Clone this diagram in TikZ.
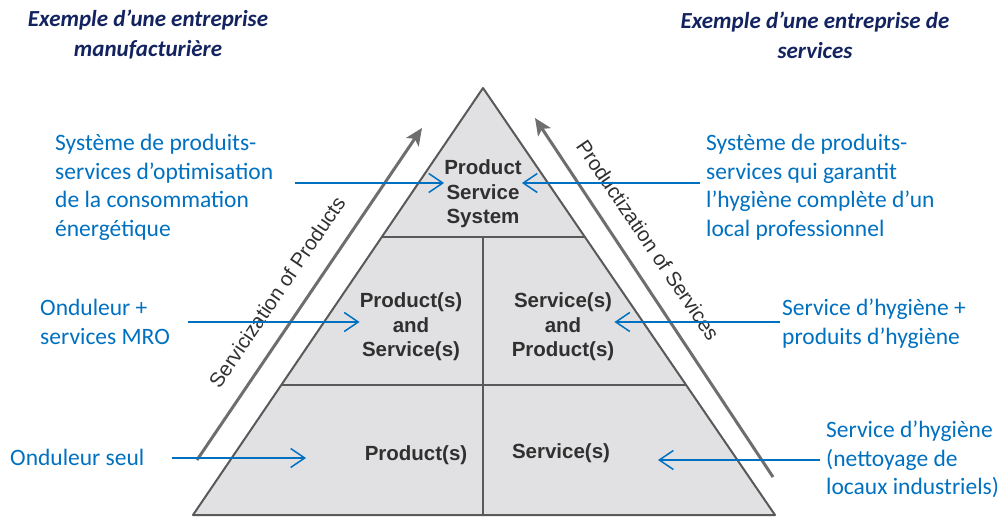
\documentclass[tikz,border=0pt]{standalone}
\usepackage{fontspec}
\setmainfont{Carlito}
\newfontfamily\arialfont{Liberation Sans}
\usetikzlibrary{arrows.meta,calc}
\definecolor{bleu}{HTML}{0070C0}
\definecolor{marine}{HTML}{13235F}
\definecolor{pyrfill}{HTML}{E1E1E3}
\definecolor{pyrline}{HTML}{595959}
\definecolor{fleche}{HTML}{6E6E6E}
\definecolor{texte}{HTML}{303030}
\tikzset{
  heading/.style={text=marine, align=center, inner sep=0pt, font=\fontsize{23}{30}\selectfont\bfseries\itshape},
  example/.style={text=bleu, align=left, anchor=north west, inner sep=0pt, font=\fontsize{23.5}{28.5}\selectfont},
  level/.style={text=texte, align=center, inner sep=0pt, font=\arialfont\bfseries\fontsize{20.5}{24.5}\selectfont},
  trend/.style={text=texte, inner sep=0pt, font=\arialfont\fontsize{20.5}{24}\selectfont},
  link/.style={draw=bleu, line width=1.5pt, -{Straight Barb[length=14pt,width=19pt]}},
  shift arrow/.style={draw=fleche, line width=3pt, -{Stealth[length=17pt,width=15pt,inset=4pt]}}
}
\begin{document}
\begin{tikzpicture}[x=1pt,y=-1pt]
  \useasboundingbox (0,0) rectangle (1003,518);
  % headings
  \node[heading] (hl) at (148, 35){Exemple d’une entreprise\\manufacturière};
  \node[heading] (hr) at (815, 35){Exemple d’une entreprise de\\services};
  % pyramid
  \coordinate (apex) at (483, 88);
  \coordinate (bl) at (193, 515);
  \coordinate (br) at (775, 515);
  \filldraw[fill=pyrfill, draw=pyrline, line width=2pt, line join=round] (apex) -- (bl) -- (br) -- cycle;
  \coordinate (l1) at ($(apex)!{149/427}!(bl)$);
  \coordinate (r1) at ($(apex)!{149/427}!(br)$);
  \coordinate (l2) at ($(apex)!{297/427}!(bl)$);
  \coordinate (r2) at ($(apex)!{297/427}!(br)$);
  \draw[pyrline, line width=2pt] (l1) -- (r1);
  \draw[pyrline, line width=2pt] (l2) -- (r2);
  \draw[pyrline, line width=2pt] (483, 237) -- (483, 515);
  \node[level] (pss) at (483, 194){Product\\Service\\System};
  \node[level] (ps) at (411, 327){Product(s)\\and\\Service(s)};
  \node[level] (sp) at (563, 327){Service(s)\\and\\Product(s)};
  \node[level] (prod) at (416, 455){Product(s)};
  \node[level] (serv) at (561, 453){Service(s)};
  % side trends
  \coordinate (sl0) at (197, 460);
  \coordinate (sl1) at (422, 128);
  \coordinate (sr0) at (773, 477);
  \coordinate (sr1) at (535, 118);
  \draw[shift arrow] (sl0) -- (sl1);
  \draw[shift arrow] (sr0) -- (sr1);
  \node[trend, rotate=55.8] (servi) at (277, 292){Servicization of Products};
  \node[trend, rotate=-55.8] (produ) at (648, 240){Productization of Services};
  % examples, manufacturer side
  \node[example] (ex1) at (55, 134){Système de produits-\\services d’optimisation\\de la consommation\\énergétique};
  \node[example] (ex2) at (40, 299){Onduleur +\\services MRO};
  \node[example] (ex3) at (10, 449){Onduleur seul};
  % examples, service side
  \node[example] (ex4) at (706, 134){Système de produits-\\services qui garantit\\l’hygiène complète d’un\\local professionnel};
  \node[example] (ex5) at (782, 299){Service d’hygiène +\\produits d’hygiène};
  \node[example] (ex6) at (826, 421){Service d’hygiène\\(nettoyage de\\locaux industriels)};
  % links
  \coordinate (a1) at (295, 183);
  \coordinate (b1) at (700, 183);
  \coordinate (a2) at (188, 322);
  \coordinate (b2) at (780, 322);
  \coordinate (a3) at (172, 458);
  \coordinate (b3) at (820, 460);
  \draw[link] (a1) -- (pss.west |- a1);
  \draw[link] (b1) -- (pss.east |- b1);
  \draw[link] (a2) -- (ps.west |- a2);
  \draw[link] (b2) -- (sp.east |- b2);
  \draw[link] (a3) -- (306, 458);
  \draw[link] (b3) -- (658, 460);
\end{tikzpicture}
\end{document}
